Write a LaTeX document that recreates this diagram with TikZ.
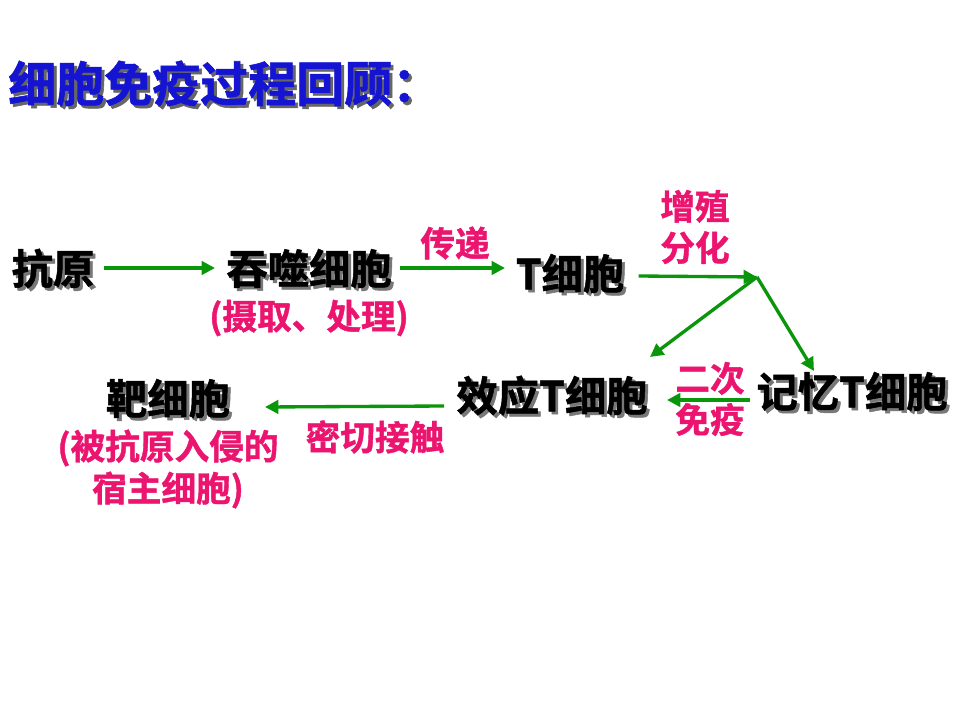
\documentclass[tikz,border=0pt]{standalone}
\usepackage{fontspec}
\newfontfamily\cjk{Noto Sans CJK SC Bold}[FakeBold=1.2]
\usetikzlibrary{arrows.meta}
\definecolor{titleblue}{RGB}{20,20,210}
\definecolor{pinkred}{RGB}{235,20,110}
\definecolor{arrgreen}{RGB}{10,150,10}
\definecolor{shgray}{RGB}{120,120,120}
\newcommand\shtxt[2][shgray]{\makebox[0pt][l]{\hspace{2.2pt}\raisebox{-2.2pt}{\textcolor{#1}{#2}}}#2}
\tikzset{
  blk/.style={inner sep=0pt, text=black, font=\cjk\fontsize{31}{36}\selectfont},
  pnk/.style={inner sep=0pt, text=pinkred, align=center, font=\cjk\fontsize{26}{31}\selectfont},
  arr/.style={draw=arrgreen, line width=2.5pt, -{Triangle[length=10pt,width=10pt]}},
}
\begin{document}
\begin{tikzpicture}[x=0.75pt,y=-0.75pt]
\useasboundingbox (0,0) rectangle (960,720);
\fill[white] (0,0) rectangle (960,720);
% title
\node[anchor=west, inner sep=0pt, text=titleblue, font=\cjk\fontsize{36}{42}\selectfont] (title) at (8,85) {\shtxt[black!60]{细胞免疫过程回顾：}};
% main nodes
\node[blk] (ag) at (53,270) {\shtxt{抗原}};
\node[blk] (mac) at (309,270) {\shtxt{吞噬细胞}};
\node[pnk] (macl) at (309,318) {(摄取、处理)};
\node[blk] (tc) at (570,275) {\shtxt{T细胞}};
\node[blk] (eff) at (552,397) {\shtxt{效应T细胞}};
\node[blk] (mem) at (852,393) {\shtxt{记忆T细胞}};
\node[blk] (tgt) at (168,400) {\shtxt{靶细胞}};
\node[pnk, font=\cjk\fontsize{26}{31.5}\selectfont] (tgtl) at (168,469) {(被抗原入侵的\\宿主细胞)};
% labels
\node[pnk] (l1) at (455,243) {传递};
\node[pnk] (l2) at (695,227) {增殖\\分化};
\node[pnk] (l3) at (710,399) {二次\\免疫};
\node[pnk] (l4) at (375,437) {密切接触};
% connector points
\coordinate (j) at (757,277);
\coordinate (effin) at (650,357);
\coordinate (memin) at (814,371);
% arrows
\draw[arr] (ag.east) ++(9,-2) -- (215,268);
\draw[arr] (mac.east) ++(8,-2) -- (505,268);
\draw[arr] (tc.east) ++(14,1) -- (j);
\draw[arr] (j) -- (effin);
\draw[arr] (j) -- (memin);
\draw[arr] (mem.west) ++(-6,7) -- (667,400);
\draw[arr] (eff.west) ++(-12,9) -- (265,407);
\end{tikzpicture}
\end{document}
